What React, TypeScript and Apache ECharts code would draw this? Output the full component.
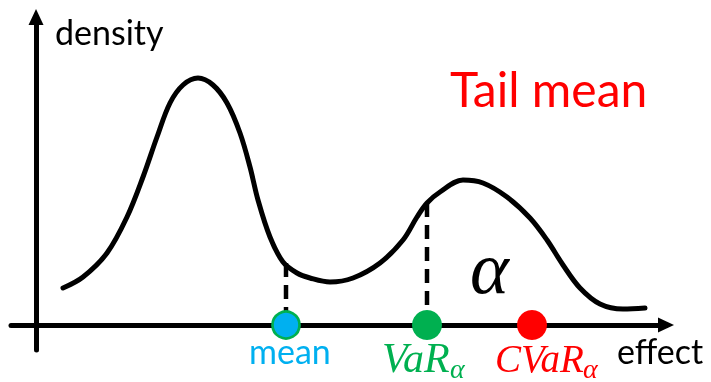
import React, { useEffect, useRef } from "react";
import * as echarts from "echarts";

// density curve (effect, density) in chart units
const curveEffect = [2.7, 4.7, 7.1, 9.1, 10.7, 12.1, 13.4, 14.7, 16.2, 17.7, 19.1, 20.4, 21.4, 22.2, 23.4, 24.7, 26.1, 27.4, 29.4, 31.7, 34.4, 36.7, 38.1, 39.1, 40.4, 42.7, 44.7, 47.1, 49.4, 51.1, 52.7, 54.4, 56.4, 58.7, 60.9];
const curveDensity = [3.7, 4.8, 7.2, 10.8, 14.8, 18.8, 22.2, 24.0, 24.7, 24.0, 22.2, 19.2, 15.8, 12.5, 8.8, 6.3, 5.2, 4.7, 4.3, 4.7, 6.2, 8.5, 10.8, 12.2, 13.3, 14.5, 14.2, 12.8, 10.7, 8.5, 6.0, 3.7, 2.1, 1.6, 1.7];

// markers on effect axis
const markerNames = ["mean", "VaR", "CVaR"];
const markerEffect = [25.0, 39.1, 49.6];
const dashTop = [6.2, 12.2];
const dashBottom = 1.4;

const markerColors = ["#00B0F0", "#00B050", "#FF0000"];

export default function App() {
  const ref = useRef<HTMLDivElement>(null);
  useEffect(() => {
    if (!ref.current) return;
    const chart = echarts.init(ref.current, null, { renderer: "svg" });
    const curve = curveEffect.map((x, i) => [x, curveDensity[i]]);
    const sans = "Lato";
    const serif = "Liberation Serif";
    const axisCommon = {
      type: "value" as const,
      splitLine: { show: false },
      axisTick: { show: false },
      axisLabel: { show: false },
      axisLine: {
        show: true,
        onZero: true,
        symbol: ["none", "triangle"],
        symbolSize: [15, 16],
        lineStyle: { color: "#000", width: 5 },
      },
    };
    chart.setOption({
      animation: false,
      grid: { left: 11, right: 45, top: 17, bottom: 32 },
      xAxis: { ...axisCommon, min: -2.5, max: 63 },
      yAxis: { ...axisCommon, min: -2.5, max: 30.8 },
      series: [
        {
          type: "line",
          data: curve,
          smooth: 0.35,
          showSymbol: false,
          lineStyle: { color: "#000", width: 5, cap: "round" },
          z: 3,
        },
        ...dashTop.map((top, i) => ({
          type: "line",
          data: [
            [markerEffect[i], top],
            [markerEffect[i], dashBottom],
          ],
          showSymbol: false,
          lineStyle: { color: "#000", width: 4.5, type: [14, 8] },
          z: 2,
        })),
        {
          type: "scatter",
          data: markerEffect.map((x, i) => ({
            name: markerNames[i],
            value: [x, 0],
            symbolSize: i === 0 ? 27 : 30,
            itemStyle:
              i === 0
                ? { color: markerColors[0], borderColor: "#00B050", borderWidth: 2.7, opacity: 1 }
                : { color: markerColors[i], opacity: 1 },
          })),
          z: 5,
        },
      ],
      graphic: [
        { type: "text", x: 55, y: 31, style: { text: "density", fontFamily: sans, fontSize: 34, fill: "#000", verticalAlign: "middle" } },
        { type: "text", x: 450, y: 88, style: { text: "Tail mean", fontFamily: sans, fontSize: 48, fill: "#FF0000", verticalAlign: "middle" } },
        { type: "text", x: 249, y: 350.5, style: { text: "mean", fontFamily: sans, fontSize: 34, fill: "#00B0F0", verticalAlign: "middle" } },
        { type: "text", x: 617, y: 350.5, style: { text: "effect", fontFamily: sans, fontSize: 34, fill: "#000", verticalAlign: "middle" } },
        { type: "text", x: 382, y: 358, style: { text: "VaR", fontFamily: serif, fontStyle: "italic", fontSize: 42, fill: "#00B050", verticalAlign: "middle" } },
        { type: "text", x: 450, y: 368, style: { text: "α", fontFamily: serif, fontStyle: "italic", fontSize: 28, fill: "#00B050", verticalAlign: "middle" } },
        { type: "text", x: 495, y: 358, style: { text: "CVaR", fontFamily: serif, fontStyle: "italic", fontSize: 39, fill: "#FF0000", verticalAlign: "middle" } },
        { type: "text", x: 583, y: 368, style: { text: "α", fontFamily: serif, fontStyle: "italic", fontSize: 28, fill: "#FF0000", verticalAlign: "middle" } },
        { type: "text", x: 470, y: 268, style: { text: "α", fontFamily: serif, fontStyle: "italic", fontSize: 74, fill: "#000", verticalAlign: "middle" } },
      ],
    });
    return () => chart.dispose();
  }, []);
  return <div ref={ref} style={{ width: 711, height: 382, position: "fixed", left: 0, top: 0 }} />;
}
